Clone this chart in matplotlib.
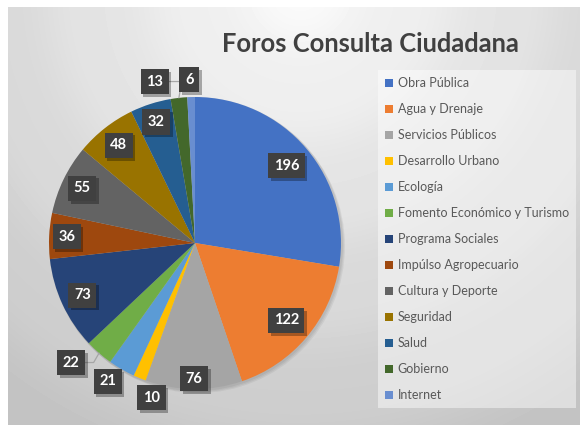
import numpy as np
import matplotlib.pyplot as plt
from matplotlib.patches import Circle
import matplotlib.patheffects as pe

categories = ["Obra Pública", "Agua y Drenaje", "Servicios Públicos", "Desarrollo Urbano",
              "Ecología", "Fomento Económico y Turismo", "Programa Sociales",
              "Impúlso Agropecuario", "Cultura y Deporte", "Seguridad", "Salud",
              "Gobierno", "Internet"]
values = [196, 122, 76, 10, 21, 22, 73, 36, 55, 48, 32, 13, 6]
colors = ["#4472C4", "#ED7D31", "#A5A5A5", "#FFC000", "#5B9BD5", "#70AD47", "#264478",
          "#9E480E", "#636363", "#997300", "#255E91", "#43682B", "#698ED0"]

# posicion de las etiquetas: factor de radio, giro (grados), angulo de la linea guia
label_r = [0.82, 0.82, 0.93, 1.10, 1.12, 1.18, 0.85, 0.88, 0.86, 0.85, 0.87, 1.14, 1.12]
label_shift = [0, 0, 0, 6.6, -2.1, -5, 0, 0, 0, 0, 0, 7.7, 0.5]
leader_angle = [None, None, None, None, None, 60, None, None, None, None, None, 80, None]

plt.rcParams['font.family'] = ['Lato', 'DejaVu Sans']

W, H = 580, 425
fig = plt.figure(figsize=(5.8, 4.25), dpi=100)

# fondo con degradado radial
bg = fig.add_axes([0, 0, 1, 1])
bg.axis('off')
yy, xx = np.mgrid[0:H, 0:W]
d = np.hypot(xx - 300, yy - (H + 10))
shade = 0.98 - 0.22 * d / 516 + 0.006 * np.sin(d / 16)
shade[(xx < 8) | (yy > H - 8)] = 1.0
bg.imshow(shade, cmap='gray', vmin=0, vmax=1, origin='lower', extent=(0, W, 0, H), aspect='auto')
bg.set_xlim(0, W)
bg.set_ylim(0, H)

ax = fig.add_axes([0, 0, 1, 1])
ax.patch.set_visible(False)
cx, cy, R = 195, 182, 146

# sombra del pastel
for k in range(3):
    ax.add_patch(Circle((cx + 1 + k, cy - 1 - k), R + 1, color='black', alpha=0.05, lw=0, zorder=0))

wedges, _ = ax.pie(values, colors=colors, startangle=90, counterclock=False,
                   radius=R, center=(cx, cy), wedgeprops=dict(linewidth=0))
ax.set_xlim(0, W)
ax.set_ylim(0, H)
ax.axis('off')

box = dict(boxstyle='square,pad=0.38', fc='#404040', ec='none')
shadow = [pe.SimplePatchShadow(offset=(2, -2), shadow_rgbFace='black', alpha=0.3), pe.Normal()]

for i, (v, w) in enumerate(zip(values, wedges)):
    mid = (w.theta1 + w.theta2) / 2
    ang = np.deg2rad(mid + label_shift[i])
    lx = cx + label_r[i] * R * np.cos(ang)
    ly = cy + label_r[i] * R * np.sin(ang)
    if leader_angle[i] is not None:
        ex = cx + R * np.cos(np.deg2rad(mid))
        ey = cy + R * np.sin(np.deg2rad(mid))
        t = ax.annotate(str(v), xy=(ex, ey), xytext=(lx, ly), ha='center', va='center',
                        fontsize=10.5, fontweight='bold', color='white', bbox=box,
                        arrowprops=dict(arrowstyle='-', color='#a6a6a6', lw=0.9,
                                        shrinkA=0, shrinkB=0,
                                        connectionstyle=f"angle,angleA=0,angleB={leader_angle[i]},rad=0"))
    else:
        t = ax.text(lx, ly, str(v), ha='center', va='center', fontsize=10.5,
                    fontweight='bold', color='white', bbox=box)
    t.get_bbox_patch().set_path_effects(shadow)

leg = ax.legend(wedges, categories, loc='upper left', bbox_to_anchor=(372 / W, 1 - 64 / H),
                bbox_transform=fig.transFigure, fontsize=9, handlelength=0.65,
                handleheight=0.65, handletextpad=0.35, labelspacing=1.12,
                borderpad=0.55, fancybox=False, frameon=True, edgecolor='none',
                facecolor='white', framealpha=0.45)
for t in leg.get_texts():
    t.set_color('#595959')

fig.text(370 / W, 1 - 44 / H, "Foros Consulta Ciudadana", ha='center', va='center',
         fontsize=18.4, fontweight='bold', color='#404040')

fig.savefig('out.png', dpi=100)
